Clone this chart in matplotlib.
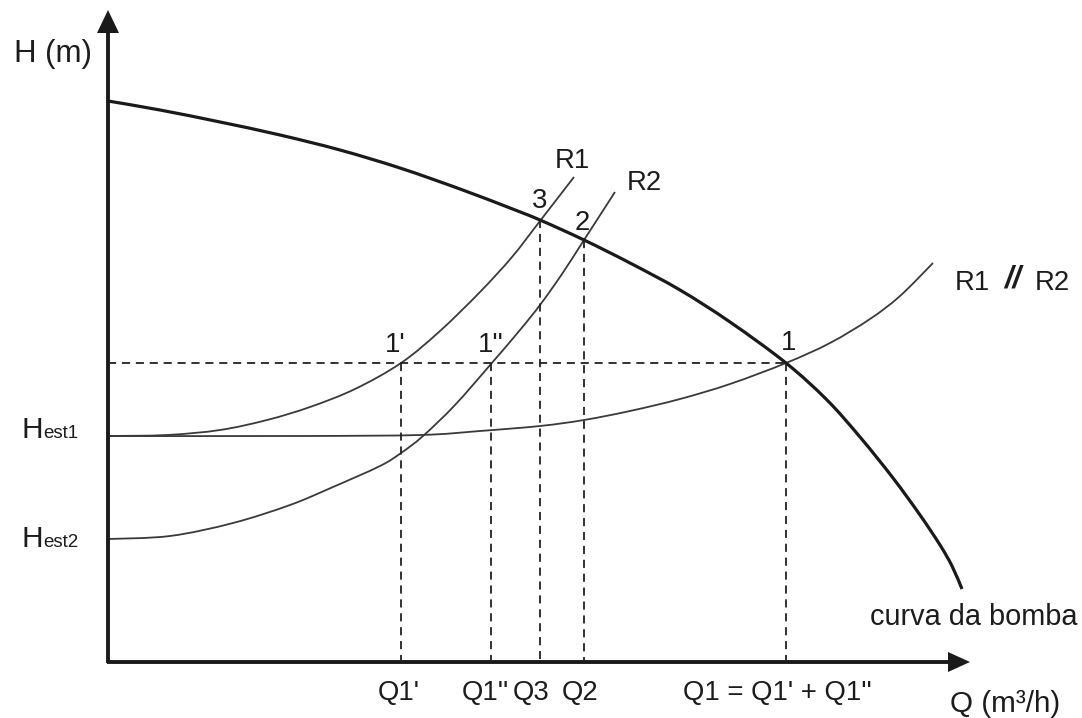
import matplotlib
matplotlib.use("Agg")
import matplotlib.pyplot as plt
from matplotlib.patches import Polygon, PathPatch
from matplotlib.path import Path

# ---- data (pixel-like coordinates: x = Q, y = H downwards) ----
pump_q = [108, 160, 220, 280, 340, 400, 460, 510, 540, 584, 630, 680, 730, 786, 827, 860, 893, 920, 940, 952, 962]
pump_h = [101, 110, 122, 135, 150, 168, 189, 208, 220, 240, 263, 290, 322, 363, 400, 437, 478, 515, 545, 566, 589]

r1_q = [108, 167, 220, 267, 310, 355, 401, 440, 480, 512, 540, 574]
r1_h = [436, 435, 430, 420, 407, 389, 363, 331, 292, 257, 221, 177]

r2_q = [108, 170, 233, 290, 333, 380, 401, 423, 455, 491, 520, 540, 562, 584, 615]
r2_h = [539, 536, 523, 505, 487, 466, 453, 436, 405, 364, 330, 305, 274, 240, 192]

rp_q = [108, 300, 420, 480, 540, 584, 630, 680, 730, 786, 830, 870, 900, 933]
rp_h = [436, 436, 435, 431, 426, 420, 411, 399, 384, 363, 343, 319, 296, 263]

h_level = 363                        # H of point 1 (horizontal dashed line)
vline_q = [401, 491, 540, 584, 786]  # Q1', Q1'', Q3, Q2, Q1
vline_top = [363, 363, 220, 240, 363]

q_labels = ["Q1'", "Q1''", "Q3", "Q2", "Q1 = Q1' + Q1''"]
q_label_x = [378, 462, 513, 562, 683]

pt_labels = ["1'", "1''", "3", "2", "1"]
pt_label_xy = [(385, 352), (478, 352), (532, 208), (575, 230), (781, 350)]

X0, Y0 = 108, 662       # origin of the drawn axes
XEND, YEND = 970, 10    # arrow tips

fig = plt.figure(figsize=(10.82, 7.18), dpi=100)
ax = fig.add_axes([0, 0, 1, 1])
ax.set_xlim(0, 1082)
ax.set_ylim(718, 0)
ax.axis("off")

txt = "#1c1c1c"
fam = ["Liberation Sans", "DejaVu Sans"]
fs = 19.8


def smooth_curve(xs, ys, **kw):
    """Draw a smooth (Catmull-Rom as Bezier) path through the given points."""
    pts = list(zip(xs, ys))
    n = len(pts)
    verts = [pts[0]]
    codes = [Path.MOVETO]
    for i in range(n - 1):
        p0 = pts[i - 1] if i > 0 else pts[i]
        p1 = pts[i]
        p2 = pts[i + 1]
        p3 = pts[i + 2] if i + 2 < n else pts[i + 1]
        c1 = (p1[0] + (p2[0] - p0[0]) / 6.0, p1[1] + (p2[1] - p0[1]) / 6.0)
        c2 = (p2[0] - (p3[0] - p1[0]) / 6.0, p2[1] - (p3[1] - p1[1]) / 6.0)
        verts += [c1, c2, p2]
        codes += [Path.CURVE4] * 3
    ax.add_patch(PathPatch(Path(verts, codes), fill=False, **kw))


# axes with arrows
ax.plot([X0, X0], [Y0 + 1, YEND + 18], color="#1a1a1a", lw=2.8, solid_capstyle="butt")
ax.plot([X0 - 1, XEND - 18], [Y0, Y0], color="#1a1a1a", lw=2.8, solid_capstyle="butt")
ax.add_patch(Polygon([[X0, YEND], [X0 - 11, YEND + 23], [X0 + 11, YEND + 23]], closed=True,
                     color="#1a1a1a", lw=0))
ax.add_patch(Polygon([[XEND, Y0], [XEND - 22, Y0 - 10], [XEND - 22, Y0 + 10]], closed=True,
                     color="#1a1a1a", lw=0))

# dashed guide lines
ax.plot([X0, vline_q[-1]], [h_level, h_level], color="#222222", lw=1.3, ls=(0, (4.5, 3.2)))
for q, top in zip(vline_q, vline_top):
    ax.plot([q, q], [top, Y0], color="#222222", lw=1.3, ls=(0, (4.5, 3.2)))

# curves
smooth_curve(rp_q, rp_h, edgecolor="#3a3a3a", lw=1.3)
smooth_curve(r1_q, r1_h, edgecolor="#3a3a3a", lw=1.3)
smooth_curve(r2_q, r2_h, edgecolor="#3a3a3a", lw=1.3)
smooth_curve(pump_q, pump_h, edgecolor="#1a1a1a", lw=2.3)

# texts
ax.text(14, 62, "H (m)", fontsize=22.5, family=fam, color=txt, ha="left", va="baseline")
ax.text(950, 712, "Q (m³/h)", fontsize=21.3, family=fam, color=txt, ha="left", va="baseline")
ax.text(22, 438, "H", fontsize=21.5, family=fam, color=txt, ha="left", va="baseline")
ax.text(43, 438, "est1", fontsize=13.5, family=fam, color=txt, ha="left", va="baseline")
ax.text(22, 547, "H", fontsize=21.5, family=fam, color=txt, ha="left", va="baseline")
ax.text(43, 547, "est2", fontsize=13.5, family=fam, color=txt, ha="left", va="baseline")

for lab, x in zip(q_labels, q_label_x):
    ax.text(x, 700, lab, fontsize=fs, family=fam, color=txt, ha="left", va="baseline")

for lab, (x, y) in zip(pt_labels, pt_label_xy):
    ax.text(x, y, lab, fontsize=fs, family=fam, color=txt, ha="left", va="baseline")

ax.text(555, 168, "R1", fontsize=fs, family=fam, color=txt, ha="left", va="baseline")
ax.text(627, 190, "R2", fontsize=fs, family=fam, color=txt, ha="left", va="baseline")
ax.text(955, 290, "R1", fontsize=fs, family=fam, color=txt, ha="left", va="baseline")
ax.text(1004, 288, "//", fontsize=22, family=fam, color=txt, ha="left", va="baseline",
        fontweight="bold", fontstyle="italic")
ax.text(1035, 290, "R2", fontsize=fs, family=fam, color=txt, ha="left", va="baseline")
ax.text(870, 625, "curva da bomba", fontsize=20.8, family=fam, color=txt, ha="left", va="baseline")

fig.savefig("out.png", dpi=100)
